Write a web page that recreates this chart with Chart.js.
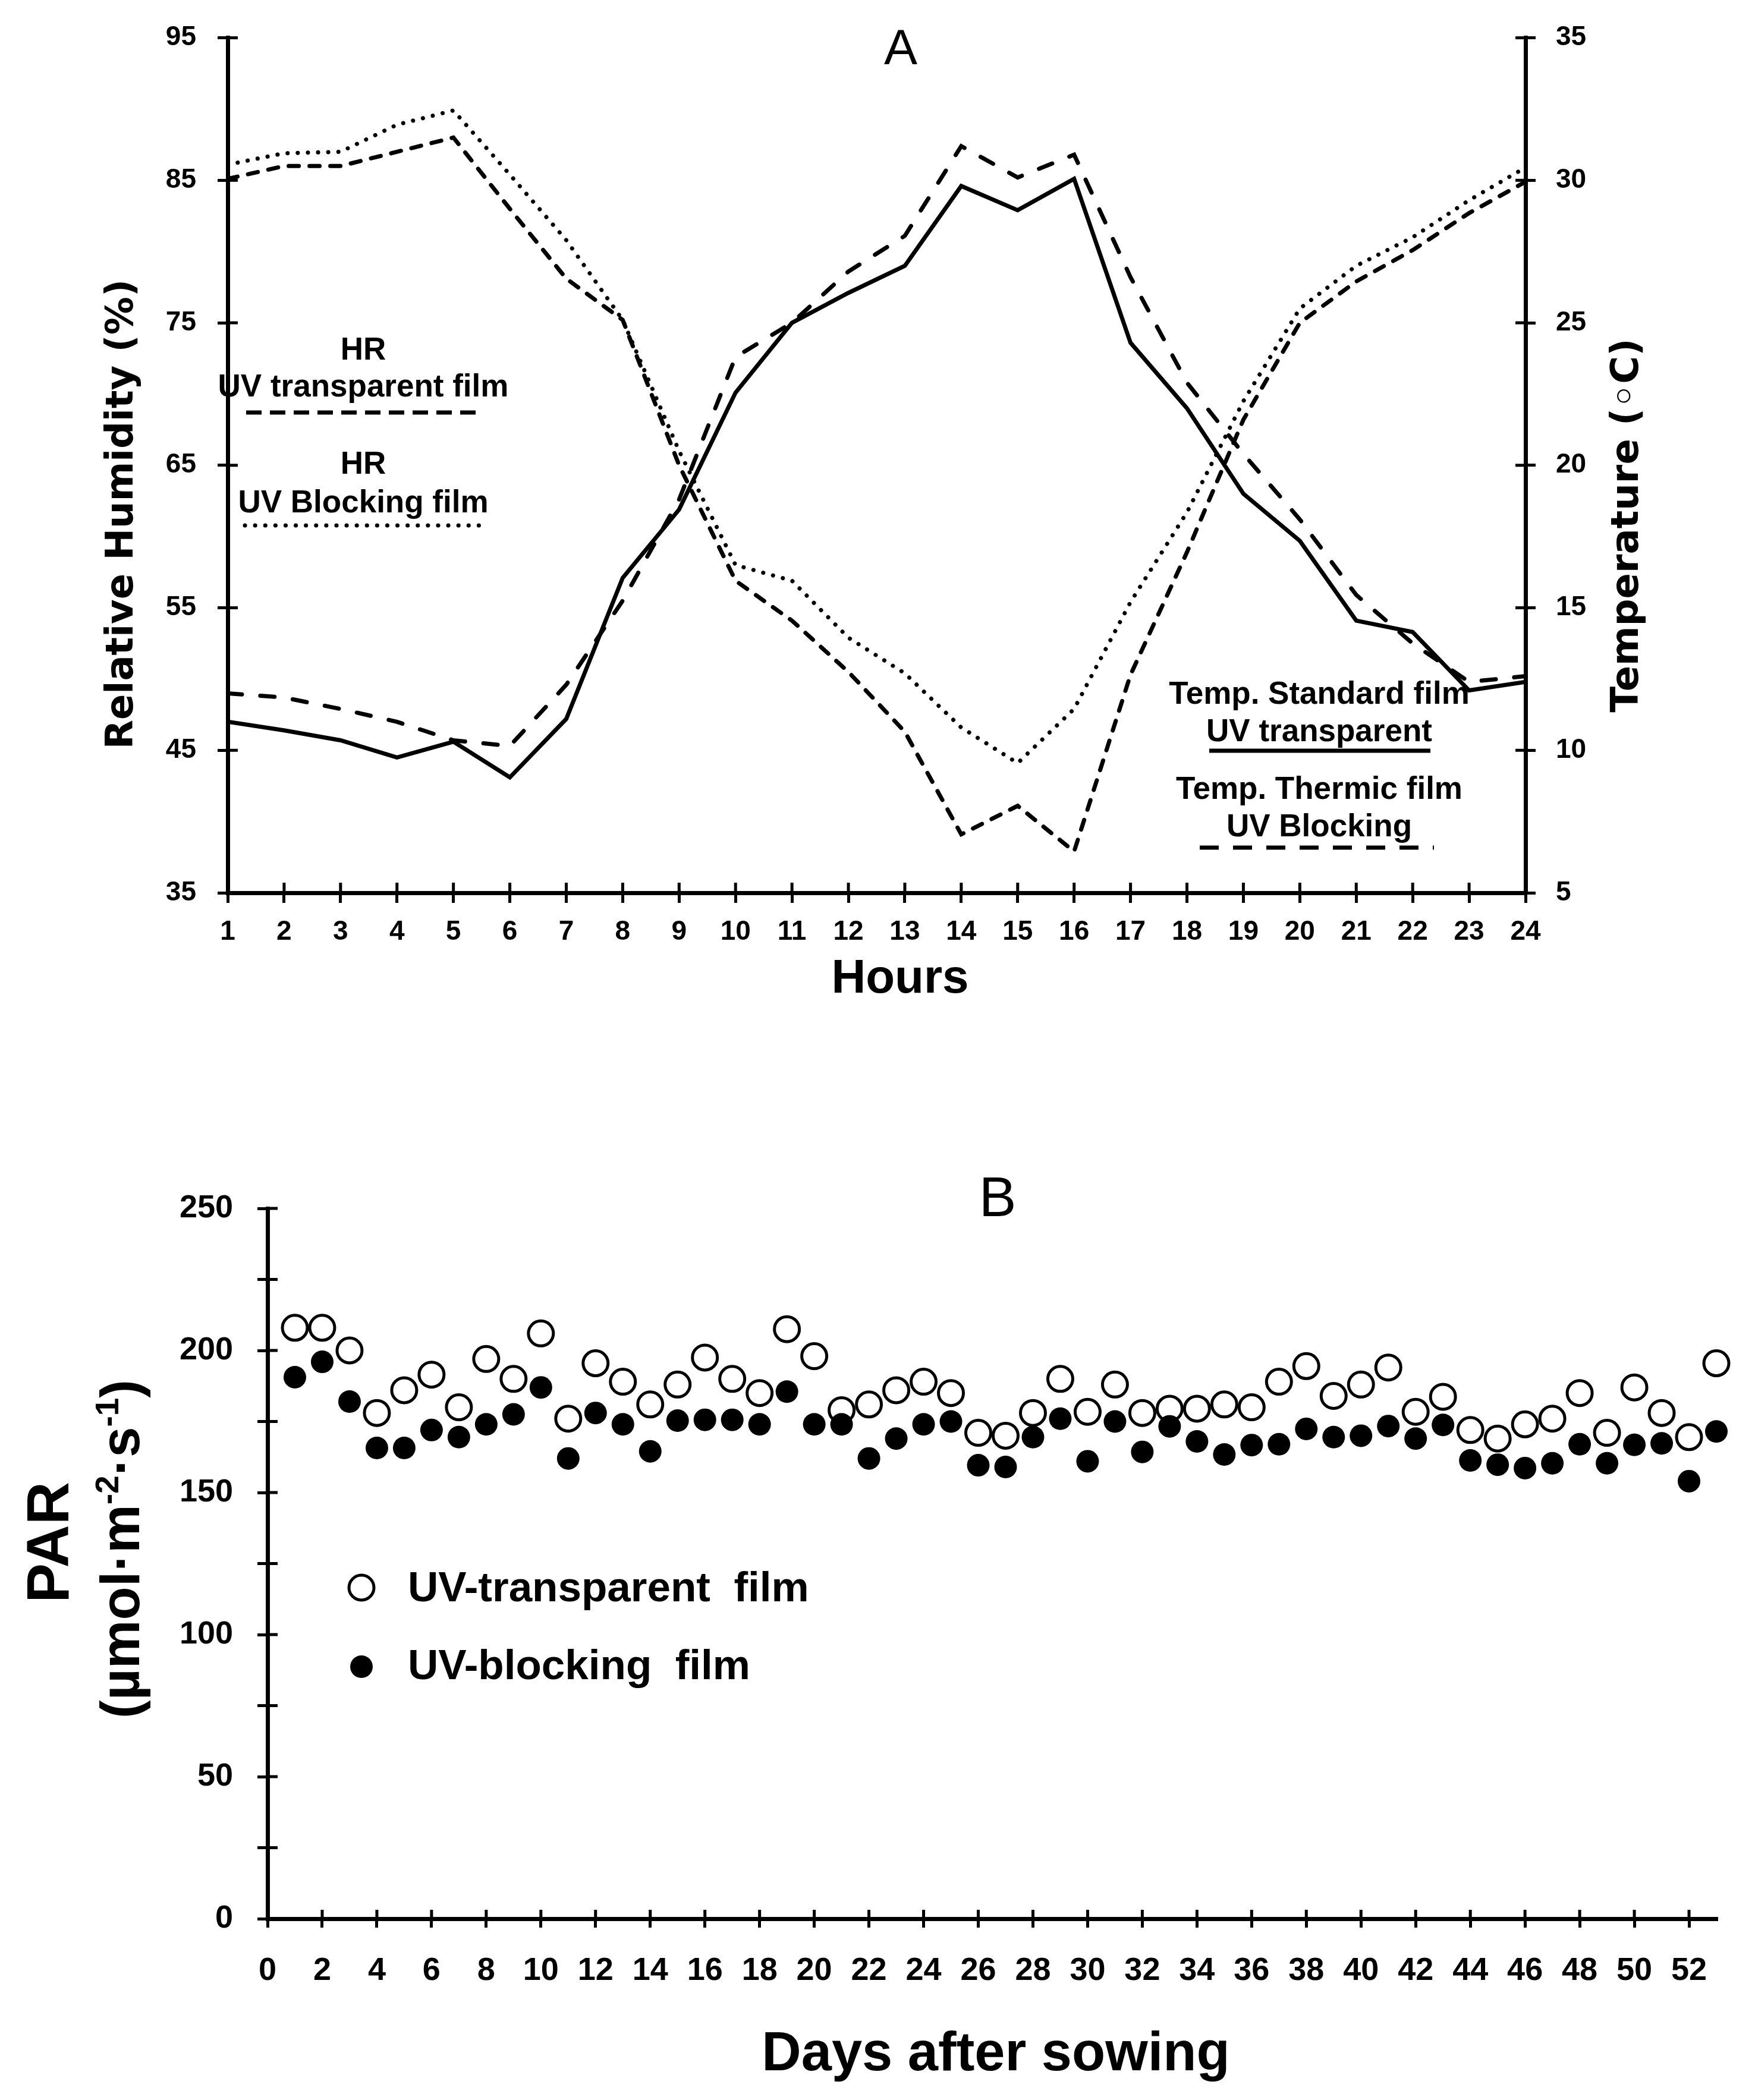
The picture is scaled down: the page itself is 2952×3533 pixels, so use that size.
<!DOCTYPE html>
<html>
<head>
<meta charset="utf-8">
<script src="https://cdn.jsdelivr.net/npm/chart.js@4.4.0/dist/chart.umd.min.js"></script>
<style>
  body { margin: 0; background: #fff; }
  canvas { position: absolute; left: 0; }
  #chartA { top: 0; }
  #chartB { top: 1720px; }
</style>
</head>
<body>
<canvas id="chartA" width="2952" height="1720"></canvas>
<canvas id="chartB" width="2952" height="1813"></canvas>
<script>
// ---- Panel A : daily course, relative humidity (left axis) and temperature (right axis)
const hours = [1, 2, 3, 4, 5, 6, 7, 8, 9, 10, 11, 12, 13, 14, 15, 16, 17, 18, 19, 20, 21, 22, 23, 24];
const hrTransparent = [85.1, 86.0, 86.0, 87.0, 88.0, 83.0, 78.1, 75.2, 65.0, 56.9, 54.1, 50.5,
                       46.3, 39.1, 41.1, 37.9, 50.3, 58.9, 68.2, 75.0, 77.9, 80.1, 82.7, 84.9];
const hrBlocking = [86.1, 86.9, 87.0, 88.9, 89.9, 85.4, 80.8, 75.2, 66.0, 58.0, 56.9, 52.9,
                    50.4, 46.6, 44.1, 47.9, 55.4, 61.7, 69.5, 76.0, 79.0, 81.0, 83.6, 85.9];
const tempStandard = [11.0, 10.7, 10.35, 9.75, 10.3, 9.05, 11.1, 16.05, 18.45, 22.55, 25.0, 26.05,
                      27.0, 29.8, 28.95, 30.05, 24.3, 22.0, 19.0, 17.35, 14.55, 14.15, 12.1, 12.4];
const tempThermic = [12.0, 11.85, 11.45, 11.0, 10.35, 10.15, 12.3, 15.25, 18.8, 23.8, 25.0, 26.8,
                     28.05, 31.2, 30.1, 30.9, 26.6, 22.9, 20.4, 18.1, 15.45, 13.75, 12.4, 12.6];
const hrRange = [35, 95];
const tempRange = [5, 35];

// ---- Panel B : PAR per day after sowing
const days = [];
for (let d = 1; d <= 53; d++) days.push(d);
const parTransparent = [208, 208, 200, 178, 186, 191.5, 180, 197, 190, 206, 176, 195.5, 189, 181, 188,
                        197.5, 190, 185, 207.5, 198, 179, 181, 186, 189, 185, 171, 170, 178, 190, 178.4,
                        188, 178, 179.5, 179.5, 181, 180, 189, 194.5, 184, 188, 194, 178.4, 183.7, 172,
                        169, 174, 176, 185, 171, 187, 178, 169.5, 195.5];
const parBlocking = [190.6, 196, 182, 165.7, 165.7, 172, 169.5, 174, 177.5, 187, 162, 178, 174, 164.5,
                     175.3, 175.6, 175.6, 174, 185.5, 174, 174, 162, 169, 174, 175, 159.6, 159, 169.5,
                     176, 161, 175, 164.3, 173.3, 168, 163.4, 166.7, 167, 172.4, 169.5, 170, 173.4, 169,
                     173.8, 161.3, 159.8, 158.6, 160.3, 167, 160.3, 166.8, 167.3, 154, 171.5];

const SANS = '"Liberation Sans", Arial, sans-serif';
const WIDE = '"DejaVu Sans", Verdana, sans-serif';
Chart.defaults.font.family = SANS;
Chart.defaults.font.weight = 'bold';
Chart.defaults.color = '#000';

// dash patterns (round caps add the line width to each dash)
const dashHR = [17, 18];
const dashThermic = [24, 31];
const dots = [0.1, 17];

// tick marks that cross the axis line (inner half)
const innerTicks = {
  id: 'innerTicks',
  beforeDatasetsDraw(chart) {
    const ctx = chart.ctx;
    ctx.save();
    ctx.strokeStyle = '#000';
    Object.values(chart.scales).forEach(s => {
      const len = s.options.grid.tickLength;
      ctx.lineWidth = s.options.grid.lineWidth;
      s.ticks.forEach((t, i) => {
        const p = s.getPixelForTick(i);
        ctx.beginPath();
        if (s.position === 'left') { ctx.moveTo(s.right, p); ctx.lineTo(s.right + len, p); }
        else if (s.position === 'right') { ctx.moveTo(s.left, p); ctx.lineTo(s.left - len, p); }
        else { ctx.moveTo(p, s.top); ctx.lineTo(p, s.top - len); }
        ctx.stroke();
      });
    });
    ctx.restore();
  }
};

// free text, legend samples
function textPlugin(id, items, lines, markers) {
  return {
    id: id,
    afterDraw(chart) {
      const ctx = chart.ctx;
      ctx.save();
      ctx.fillStyle = '#000';
      ctx.strokeStyle = '#000';
      lines.forEach(l => {
        ctx.lineWidth = l.w;
        ctx.lineCap = l.cap || 'butt';
        ctx.setLineDash(l.dash || []);
        ctx.beginPath();
        ctx.moveTo(l.x1, l.y);
        ctx.lineTo(l.x2, l.y);
        ctx.stroke();
      });
      ctx.setLineDash([]);
      markers.forEach(m => {
        ctx.beginPath();
        ctx.arc(m.x, m.y, m.r, 0, Math.PI * 2);
        if (m.fill) { ctx.fill(); } else { ctx.fillStyle = '#fff'; ctx.fill(); ctx.fillStyle = '#000'; ctx.lineWidth = m.w; ctx.stroke(); }
      });
      items.forEach(t => {
        ctx.save();
        ctx.translate(t.x, t.y);
        if (t.rot) ctx.rotate(t.rot);
        ctx.textBaseline = t.base || 'alphabetic';
        const parts = Array.isArray(t.text) ? t.text : [[t.text, false]];
        const big = t.font;
        const small = t.font.replace(/(\d+)px/, (m, n) => Math.round(n * 0.6) + 'px');
        let total = 0;
        parts.forEach(p => { ctx.font = p[1] ? small : big; total += ctx.measureText(p[0]).width; });
        let x = t.align === 'left' ? 0 : -total / 2;
        const size = parseInt(big.match(/(\d+)px/)[1], 10);
        ctx.textAlign = 'left';
        parts.forEach(p => {
          ctx.font = p[1] ? small : big;
          ctx.fillText(p[0], x, p[1] ? -size * 0.38 : 0);
          x += ctx.measureText(p[0]).width;
        });
        ctx.restore();
      });
      ctx.restore();
    }
  };
}

const textA = [
  { text: 'A', x: 1515, y: 108, font: 'normal 84px ' + SANS },
  { text: 'Relative Humidity (%)', x: 206, y: 865, rot: -Math.PI / 2, base: 'middle', font: 'bold 64px ' + WIDE },
  { text: 'Temperature (\u25E6C)', x: 2738, y: 884, rot: -Math.PI / 2, base: 'middle', font: 'bold 64px ' + WIDE },
  { text: 'Hours', x: 1514, y: 1670, font: 'bold 80px ' + SANS },
  { text: 'HR', x: 611, y: 605, font: 'bold 53px ' + SANS },
  { text: 'UV transparent film', x: 611, y: 667, font: 'bold 53px ' + SANS },
  { text: 'HR', x: 611, y: 797, font: 'bold 53px ' + SANS },
  { text: 'UV Blocking film', x: 611, y: 862, font: 'bold 53px ' + SANS },
  { text: 'Temp. Standard film', x: 2219, y: 1184, font: 'bold 53px ' + SANS },
  { text: 'UV transparent', x: 2219, y: 1247, font: 'bold 53px ' + SANS },
  { text: 'Temp. Thermic film', x: 2219, y: 1344, font: 'bold 53px ' + SANS },
  { text: 'UV Blocking', x: 2219, y: 1407, font: 'bold 53px ' + SANS }
];
const linesA = [
  { x1: 414, x2: 814, y: 694, w: 7, dash: [26, 14], cap: 'butt' },
  { x1: 412, x2: 818, y: 884, w: 7, dash: dots, cap: 'round' },
  { x1: 2034, x2: 2406, y: 1263, w: 7 },
  { x1: 2018, x2: 2412, y: 1426, w: 7, dash: [32, 24], cap: 'butt' }
];

const textB = [
  { text: 'B', x: 1678, y: 326, font: 'normal 94px ' + SANS },
  { text: 'PAR', x: 115, y: 875, rot: -Math.PI / 2, font: 'bold 100px ' + SANS },
  { text: [['(\u00B5mol\u00B7m', false], ['-2', true], ['\u00B7s', false], ['-1', true], [')', false]],
    x: 234, y: 886, rot: -Math.PI / 2, font: 'bold 92px ' + SANS },
  { text: 'UV-transparent  film', x: 686, y: 974, align: 'left', font: 'bold 71px ' + SANS },
  { text: 'UV-blocking  film', x: 686, y: 1105, align: 'left', font: 'bold 71px ' + SANS },
  { text: 'Days after sowing', x: 1675, y: 1763, font: 'bold 92px ' + SANS }
];
const markersB = [
  { x: 608, y: 951, r: 21, w: 5, fill: false },
  { x: 608, y: 1084, r: 19, fill: true }
];

const axisBase = (size, pad, tick) => ({
  ticks: { autoSkip: false, maxRotation: 0, padding: pad, color: '#000', font: { size: size, weight: 'bold' } },
  grid: { drawOnChartArea: false, tickLength: tick, lineWidth: 5, color: '#000' },
  border: { display: true, width: 7, color: '#000' }
});

function merge(a, b) {
  const out = Object.assign({}, a);
  Object.keys(b).forEach(k => {
    out[k] = (typeof b[k] === 'object' && !Array.isArray(b[k]) && typeof a[k] === 'object') ? Object.assign({}, a[k], b[k]) : b[k];
  });
  return out;
}

const lineStyle = { borderColor: '#000', pointRadius: 0, tension: 0, fill: false, borderWidth: 7 };

new Chart(document.getElementById('chartA'), {
  type: 'line',
  data: {
    datasets: [
      Object.assign({ label: 'HR UV transparent film', yAxisID: 'yHR', borderDash: dashHR, borderCapStyle: 'round',
        data: hours.map((h, i) => ({ x: h, y: hrTransparent[i] })) }, lineStyle),
      Object.assign({ label: 'HR UV Blocking film', yAxisID: 'yHR', borderDash: dots, borderCapStyle: 'round',
        data: hours.map((h, i) => ({ x: h, y: hrBlocking[i] })) }, lineStyle),
      Object.assign({ label: 'Temp. Standard film UV transparent', yAxisID: 'yT', borderCapStyle: 'round',
        data: hours.map((h, i) => ({ x: h, y: tempStandard[i] })) }, lineStyle),
      Object.assign({ label: 'Temp. Thermic film UV Blocking', yAxisID: 'yT', borderDash: dashThermic, borderCapStyle: 'round',
        data: hours.map((h, i) => ({ x: h, y: tempThermic[i] })) }, lineStyle)
    ]
  },
  options: {
    responsive: false, animation: false, devicePixelRatio: 1,
    layout: { padding: { top: 62, left: 0, right: 0, bottom: 0 } },
    plugins: { legend: { display: false }, tooltip: { enabled: false } },
    scales: {
      x: merge(axisBase(46, 22, 17), { type: 'linear', min: hours[0], max: hours[hours.length - 1],
        ticks: { stepSize: 1 }, afterFit: s => { s.height = 218; } }),
      yHR: merge(axisBase(46, 36, 17), { type: 'linear', position: 'left', min: hrRange[0], max: hrRange[1],
        ticks: { stepSize: 10 }, afterFit: s => { s.width = 383; } }),
      yT: merge(axisBase(46, 34, 17), { type: 'linear', position: 'right', min: tempRange[0], max: tempRange[1],
        ticks: { stepSize: 5 }, afterFit: s => { s.width = 386; } })
    }
  },
  plugins: [innerTicks, textPlugin('textA', textA, linesA, [])]
});

new Chart(document.getElementById('chartB'), {
  type: 'scatter',
  data: {
    datasets: [
      { label: 'UV-transparent film', order: 1, clip: false, pointRadius: 21, pointBorderWidth: 5,
        borderColor: '#000', backgroundColor: '#fff', pointHoverRadius: 21,
        data: days.map((d, i) => ({ x: d, y: parTransparent[i] })) },
      { label: 'UV-blocking film', order: 0, clip: false, pointRadius: 19, pointBorderWidth: 0,
        borderColor: '#000', backgroundColor: '#000', pointHoverRadius: 19,
        data: days.map((d, i) => ({ x: d, y: parBlocking[i] })) }
    ]
  },
  options: {
    responsive: false, animation: false, devicePixelRatio: 1,
    layout: { padding: { top: 313, left: 0, right: 65, bottom: 0 } },
    plugins: { legend: { display: false }, tooltip: { enabled: false } },
    scales: {
      x: merge(axisBase(54, 41, 15), { type: 'linear', min: 0, max: 53,
        ticks: { stepSize: 2, includeBounds: false }, afterFit: s => { s.height = 305; } }),
      y: merge(axisBase(54, 41, 17), { type: 'linear', position: 'left', min: 0, max: 250,
        ticks: { stepSize: 25, callback: v => (v % 50 === 0 ? v : '') }, afterFit: s => { s.width = 450; } })
    }
  },
  plugins: [innerTicks, textPlugin('textB', textB, [], markersB)]
});
</script>
</body>
</html>
